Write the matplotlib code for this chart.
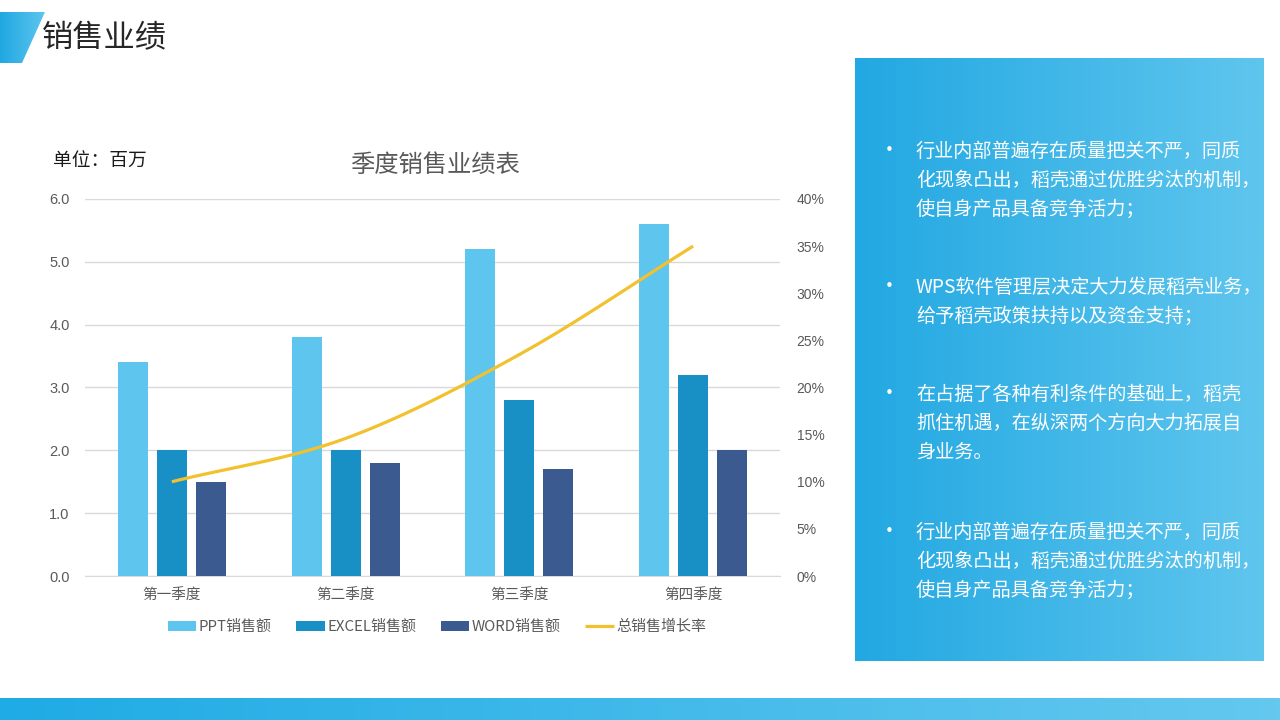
import numpy as np
import matplotlib
matplotlib.use("Agg")
import matplotlib.pyplot as plt
from matplotlib.patches import Polygon
from matplotlib.ticker import FixedLocator, PercentFormatter

plt.rcParams['font.family'] = ['Noto Sans CJK SC', 'DejaVu Sans']

# data
quarters = ['第一季度', '第二季度', '第三季度', '第四季度']
ppt = [3.4, 3.8, 5.2, 5.6]
excel = [2.0, 2.0, 2.8, 3.2]
word = [1.5, 1.8, 1.7, 2.0]
growth = [0.10, 0.146, 0.235, 0.35]
series_names = ['PPT销售额', 'EXCEL销售额', 'WORD销售额', '总销售增长率']

bullets = [
    ['行业内部普遍存在质量把关不严，同质', '化现象凸出，稻壳通过优胜劣汰的机制，', '使自身产品具备竞争活力；'],
    ['WPS软件管理层决定大力发展稻壳业务，', '给予稻壳政策扶持以及资金支持；'],
    ['在占据了各种有利条件的基础上，稻壳', '抓住机遇，在纵深两个方向大力拓展自', '身业务。'],
    ['行业内部普遍存在质量把关不严，同质', '化现象凸出，稻壳通过优胜劣汰的机制，', '使自身产品具备竞争活力；'],
]
bullet_tops = [151, 287, 394, 532]

W, H = 1280, 720
fig = plt.figure(figsize=(12.8, 7.2), dpi=100)
fig.patch.set_facecolor('white')

# background decorations in pixel coordinates
bg = fig.add_axes([0, 0, 1, 1], zorder=0)
bg.axis('off')


def hgrad(ax, x0, x1, y0, y1, c0, c1, clip=None):
    c0 = np.array(matplotlib.colors.to_rgb(c0))
    c1 = np.array(matplotlib.colors.to_rgb(c1))
    t = np.tile(np.linspace(0, 1, 256), (2, 1))
    img = c0 + (c1 - c0) * t[..., None]
    im = ax.imshow(img, extent=(x0, x1, y1, y0), aspect='auto', interpolation='bilinear', zorder=1)
    if clip is not None:
        im.set_clip_path(clip)
    return im


# top-left slanted tab
tab = Polygon([(0, 12), (45, 12), (22, 63), (0, 63)], closed=True, facecolor='none', edgecolor='none')
bg.add_patch(tab)
hgrad(bg, 0, 45, 12, 63, '#1FA8E2', '#5EC5EE', clip=tab)

# right panel
hgrad(bg, 855, 1264, 58, 661, '#22A8E2', '#5FC6EE')

# bottom bar
hgrad(bg, 0, W, 698, H, '#1FABE5', '#64C8EF')
bg.set_xlim(0, W)
bg.set_ylim(H, 0)

bg.text(42, 38, '销售业绩', fontsize=22.5, color='#262626', va='center', ha='left')
bg.text(53, 161, '单位：百万', fontsize=13.5, color='#1a1a1a', va='center', ha='left')
bg.text(435, 165, '季度销售业绩表', fontsize=17.5, color='#595959', va='center', ha='center')

for top, lines in zip(bullet_tops, bullets):
    bg.text(889, top, '•', fontsize=15, color='white', va='center', ha='center')
    for i, line in enumerate(lines):
        bg.text(916, top + i * 29, line, fontsize=13.8, color='white', va='center', ha='left',
                fontweight='light')

# chart
ax = fig.add_axes([85 / W, (H - 576) / H, 695 / W, 377 / H], zorder=2)
ax.patch.set_alpha(0)
x = np.arange(len(quarters))
bw = 0.173
step = 0.224
c_ppt, c_excel, c_word, c_line = '#5EC5EE', '#1890C6', '#3B5A8F', '#F2C12E'
b1 = ax.bar(x - step, ppt, bw, color=c_ppt, zorder=3, label=series_names[0])
b2 = ax.bar(x, excel, bw, color=c_excel, zorder=3, label=series_names[1])
b3 = ax.bar(x + step, word, bw, color=c_word, zorder=3, label=series_names[2])
ax.set_xlim(-0.5, 3.5)
ax.set_ylim(0, 6)
ax.yaxis.set_major_locator(FixedLocator(np.arange(0, 6.01, 1)))
ax.set_yticklabels([f'{v:.1f}' for v in np.arange(0, 6.01, 1)])
ax.grid(axis='y', color='#D9D9D9', linewidth=1, zorder=0)
ax.set_axisbelow(True)
for s in ['top', 'right', 'left']:
    ax.spines[s].set_visible(False)
ax.spines['bottom'].set_color('#D9D9D9')
ax.set_xticks(x)
ax.set_xticklabels(quarters)
ax.tick_params(axis='x', length=0, pad=9, labelsize=10.5, labelcolor='#595959')
ax.tick_params(axis='y', length=0, pad=11, labelsize=10.5, labelcolor='#595959')
for lab in ax.get_yticklabels():
    lab.set_family(['Liberation Sans', 'DejaVu Sans'])

ax2 = ax.twinx()
ax2.set_ylim(0, 0.40)
ax2.yaxis.set_major_locator(FixedLocator(np.arange(0, 0.401, 0.05)))
ax2.yaxis.set_major_formatter(PercentFormatter(1.0, decimals=0))
ax2.tick_params(axis='y', length=0, pad=12, labelsize=10, labelcolor='#595959')
for lab in ax2.get_yticklabels():
    lab.set_family(['Liberation Sans Narrow', 'Liberation Sans', 'DejaVu Sans'])
for s in ax2.spines.values():
    s.set_visible(False)

# smooth line through the points (Catmull-Rom)
P = np.column_stack([np.array(x, dtype=float), np.array(growth)])
P_ext = np.vstack([P[0] - (P[1] - P[0]), P, P[-1] + (P[-1] - P[-2])])
sx, sy = [], []
for i in range(1, len(P_ext) - 2):
    p0, p1, p2, p3 = P_ext[i - 1], P_ext[i], P_ext[i + 1], P_ext[i + 2]
    t = np.linspace(0, 1, 40)[:, None]
    seg = 0.5 * ((2 * p1) + (-p0 + p2) * t + (2 * p0 - 5 * p1 + 4 * p2 - p3) * t ** 2
                 + (-p0 + 3 * p1 - 3 * p2 + p3) * t ** 3)
    sx.extend(seg[:, 0])
    sy.extend(seg[:, 1])
ln, = ax2.plot(sx, sy, color=c_line, linewidth=2.3, zorder=4, label=series_names[3],
               solid_capstyle='butt')

fig.legend([b1, b2, b3, ln], series_names, loc='center', bbox_to_anchor=(437 / W, (H - 627) / H),
           ncol=4, frameon=False, fontsize=10.8, handlelength=1.9, handleheight=0.6,
           columnspacing=1.6, handletextpad=0.2, labelcolor='#595959')

fig.savefig('out.png', dpi=100)
